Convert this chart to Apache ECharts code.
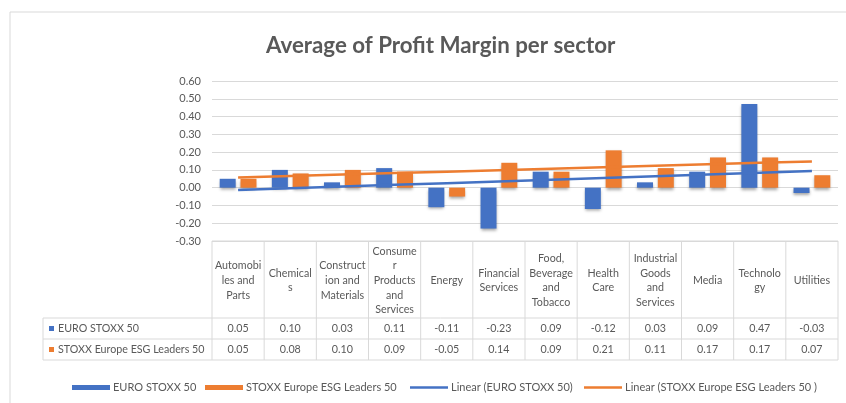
<!DOCTYPE html>
<html>
<head>
<meta charset="utf-8">
<title>Average of Profit Margin per sector</title>
<script src="https://cdn.jsdelivr.net/npm/echarts@6/dist/echarts.min.js"></script>
<style>
  html, body { margin: 0; padding: 0; background: #fff; }
  #chart { width: 846px; height: 403px; }
</style>
</head>
<body>
<div id="chart"></div>
<script>
var sectors = ['Automobiles and Parts', 'Chemicals', 'Construction and Materials',
  'Consumer Products and Services', 'Energy', 'Financial Services',
  'Food, Beverage and Tobacco', 'Health Care', 'Industrial Goods and Services',
  'Media', 'Technology', 'Utilities'];
// header text as wrapped in the data table
var headerLabels = ['Automobi\nles and\nParts', 'Chemical\ns', 'Construct\nion and\nMaterials',
  'Consume\nr\nProducts\nand\nServices', 'Energy', 'Financial\nServices',
  'Food,\nBeverage\nand\nTobacco', 'Health\nCare', 'Industrial\nGoods\nand\nServices',
  'Media', 'Technolo\ngy', 'Utilities'];
var euroStoxx = [0.05, 0.10, 0.03, 0.11, -0.11, -0.23, 0.09, -0.12, 0.03, 0.09, 0.47, -0.03];
var esgLeaders = [0.05, 0.08, 0.10, 0.09, -0.05, 0.14, 0.09, 0.21, 0.11, 0.17, 0.17, 0.07];
var seriesNames = ['EURO STOXX 50', 'STOXX Europe ESG Leaders 50'];
var trendNames = ['Linear (EURO STOXX 50)', 'Linear (STOXX Europe ESG Leaders 50 )'];

(function() {
  var blue = '#4472C4';
  var orange = '#ED7D31';
  var text = '#595959';
  var rule = '#D9D9D9';
  var font = 'Lato, "Open Sans", sans-serif';

  // least squares trend, like Excel's linear trendline
  function linearTrend(vals) {
    var n = vals.length, sx = 0, sy = 0, sxy = 0, sxx = 0;
    for (var i = 0; i < n; i++) {
      sx += i; sy += vals[i]; sxy += i * vals[i]; sxx += i * i;
    }
    var slope = (n * sxy - sx * sy) / (n * sxx - sx * sx);
    var icpt = (sy - slope * sx) / n;
    return vals.map(function(v, i) { return icpt + slope * i; });
  }

  function barStyle(c) {
    return {
      color: c,
      shadowColor: 'rgba(0,0,0,0.35)',
      shadowBlur: 3,
      shadowOffsetY: 2
    };
  }

  // one legend per entry so each icon sits where Excel put it
  function legendItem(name, x, h) {
    return {
      data: [name], left: x, top: 377,
      itemWidth: 38, itemHeight: h, icon: 'rect',
      textStyle: { color: text, fontSize: 11, fontFamily: font, padding: [0, 0, 0, -2] }
    };
  }

  var chart = echarts.init(document.getElementById('chart'), null, { renderer: 'canvas' });
  chart.setOption({
    animation: false,
    textStyle: { fontFamily: font },
    title: {
      text: 'Average of Profit Margin per sector',
      left: 261, top: 30,
      textStyle: { color: text, fontSize: 22.3, fontWeight: 'bold', fontFamily: font }
    },
    legend: [
      legendItem(seriesNames[0], 67, 5),
      legendItem(seriesNames[1], 200, 5),
      legendItem(trendNames[0], 405, 2.5),
      legendItem(trendNames[1], 579, 2.5)
    ],
    grid: { left: 212, right: 8, top: 81, bottom: 162, containLabel: false },
    xAxis: {
      type: 'category',
      data: sectors,
      axisLine: { show: false },
      axisTick: { show: false },
      axisLabel: { show: false },
      splitLine: { show: false }
    },
    yAxis: {
      type: 'value',
      min: -0.3, max: 0.6, interval: 0.1,
      axisLine: { show: false },
      axisTick: { show: false },
      axisLabel: {
        color: text, fontSize: 11, margin: 11,
        formatter: function(v) { return v.toFixed(2); }
      },
      splitLine: { lineStyle: { color: rule, width: 1 } }
    },
    series: [{
      name: seriesNames[0], type: 'bar', data: euroStoxx,
      barWidth: 16, barGap: '30%',
      itemStyle: barStyle(blue)
    }, {
      name: seriesNames[1], type: 'bar', data: esgLeaders,
      barWidth: 16, barGap: '30%',
      itemStyle: barStyle(orange)
    }, {
      name: trendNames[0], type: 'line', data: linearTrend(euroStoxx),
      symbol: 'none', z: 5,
      lineStyle: { color: blue, width: 2.5 }, itemStyle: { color: blue }
    }, {
      name: trendNames[1], type: 'line', data: linearTrend(esgLeaders),
      symbol: 'none', z: 5,
      lineStyle: { color: orange, width: 2.5 }, itemStyle: { color: orange }
    }]
  });

  // --- data table under the plot ---
  var gx0 = chart.convertToPixel({ xAxisIndex: 0 }, 0);
  var gx1 = chart.convertToPixel({ xAxisIndex: 0 }, 1);
  var band = gx1 - gx0;
  var tableTop = chart.convertToPixel({ yAxisIndex: 0 }, -0.3);
  var left = gx0 - band / 2;
  var right = left + band * sectors.length;
  var rowTops = [tableTop, 318, 339, 360];
  var legendLeft = 43;
  var els = [];

  function line(x1, y1, x2, y2) {
    els.push({ type: 'line', silent: true,
      shape: { x1: x1, y1: y1, x2: x2, y2: y2 },
      style: { stroke: rule, lineWidth: 1 } });
  }
  function label(x, y, str, align) {
    els.push({ type: 'text', silent: true, x: x, y: y,
      style: { text: str, fill: text, font: '10.7px ' + font, lineHeight: 14.6,
        align: align || 'center', verticalAlign: 'middle' } });
  }

  line(left, rowTops[0], right, rowTops[0]);
  for (var r = 1; r < rowTops.length; r++) line(legendLeft, rowTops[r], right, rowTops[r]);
  line(legendLeft, rowTops[1], legendLeft, rowTops[3]);
  for (var c = 0; c <= sectors.length; c++) {
    var x = left + band * c;
    line(x, rowTops[0], x, rowTops[3]);
  }
  var rows = [euroStoxx, esgLeaders];
  var colors = [blue, orange];
  for (var i = 0; i < sectors.length; i++) {
    var cx = chart.convertToPixel({ xAxisIndex: 0 }, i);
    label(cx, (rowTops[0] + rowTops[1]) / 2 + 1, headerLabels[i]);
    for (var k = 0; k < rows.length; k++) {
      label(cx, (rowTops[k + 1] + rowTops[k + 2]) / 2, rows[k][i].toFixed(2));
    }
  }
  for (var k2 = 0; k2 < rows.length; k2++) {
    var my = (rowTops[k2 + 1] + rowTops[k2 + 2]) / 2;
    els.push({ type: 'rect', silent: true,
      shape: { x: 49, y: my - 2.5, width: 5, height: 5 },
      style: { fill: colors[k2] } });
    label(58, my, seriesNames[k2], 'left');
  }
  // chart frame (cropped, only top and left visible)
  line(10, 12, 846, 12);
  line(10, 12, 10, 403);

  chart.setOption({ graphic: { elements: els } });
  window.addEventListener('resize', function() { chart.resize(); });
})();
</script>
</body>
</html>
